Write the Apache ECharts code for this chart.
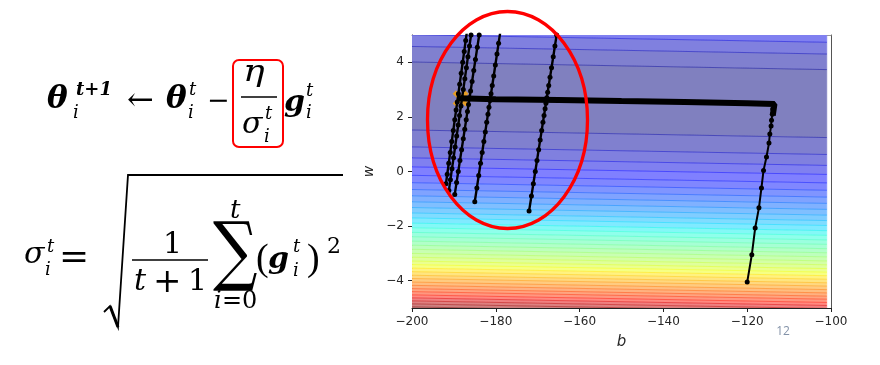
<!DOCTYPE html>
<html><head><meta charset="utf-8">
<script src="https://cdn.jsdelivr.net/npm/echarts@6/dist/echarts.min.js"></script>
<style>html,body{margin:0;padding:0;background:#fff}#c{width:880px;height:365px}</style>
</head><body><div id="c"></div>
<script>
// ---------------- data ----------------
const bTicks = [-200, -180, -160, -140, -120, -100];
const wTicks = [-4, -2, 0, 2, 4];
// contour grid extent in b
const contourB = [-200, -101];
// contour boundary lines (w value at b = -150), top to bottom
const contourBoundsW = [4.87, 4.44, 3.87, 1.38, 0.76, 0.36, 0.03, -0.28, -0.55, -0.80, -1.03, -1.25,
  -1.46, -1.66, -1.84, -2.03, -2.20, -2.37, -2.53, -2.69, -2.84, -2.99, -3.14, -3.28, -3.42,
  -3.55, -3.68, -3.81, -3.94, -4.06, -4.19, -4.31, -4.43, -4.54, -4.66, -4.77, -4.88, -4.99,
  -5.10, -5.20];
// contour level of each band (band j lies between bound j-1 and bound j)
const bandLevels = [3, 2, 1, 0, 1, 2, 3, 4, 5, 6, 7, 8, 9, 10, 11, 12, 13, 14, 15, 16, 17, 18,
  19, 20, 21, 22, 23, 24, 25, 26, 27, 28, 29, 30, 31, 32, 33, 34, 35, 36, 37];
const contourTilt = -0.0028; // change of w per unit b along a contour line
const maxLevel = 36;

// trajectory: start and climb
const pathStart = [[-120.0, -4.05], [-118.9, -3.05], [-118.1, -2.07], [-117.2, -1.33], [-116.6, -0.60],
  [-116.1, 0.04], [-115.4, 0.53], [-114.8, 1.04], [-114.6, 1.37], [-114.3, 1.67], [-114.2, 1.88],
  [-114.0, 2.10], [-113.9, 2.29], [-113.8, 2.47]];
// dense horizontal part
const pathBar = [[-113.9, 2.05], [-113.5, 2.47], [-120, 2.50], [-135, 2.55], [-150, 2.58], [-165, 2.62],
  [-180, 2.65], [-189.0, 2.68]];
const diagA = [[-172.06, -1.45], [-171.5, -0.9], [-171.04, -0.45], [-170.58, 0.0], [-170.17, 0.4],
  [-169.77, 0.8], [-169.41, 1.15], [-169.05, 1.5], [-168.75, 1.8], [-168.49, 2.05], [-168.24, 2.3],
  [-168.03, 2.5], [-167.83, 2.7], [-167.62, 2.9], [-167.37, 3.15], [-167.06, 3.45], [-166.7, 3.8],
  [-166.29, 4.2], [-165.89, 4.6], [-165.48, 5.0], [-165.07, 5.4]];
const diagB = [[-185.02, -1.11], [-184.52, -0.6], [-184.08, -0.15], [-183.64, 0.3], [-183.25, 0.7],
  [-182.85, 1.1], [-182.51, 1.45], [-182.17, 1.8], [-181.87, 2.1], [-181.63, 2.35], [-181.38, 2.6],
  [-181.14, 2.85], [-180.85, 3.15], [-180.5, 3.5], [-180.11, 3.9], [-179.72, 4.3], [-179.33, 4.7],
  [-178.94, 5.1], [-178.64, 5.4]];
const diagC = [[-189.8, -0.84], [-189.36, -0.4], [-188.96, 0.0], [-188.56, 0.4], [-188.16, 0.8],
  [-187.76, 1.2], [-187.41, 1.55], [-187.06, 1.9], [-186.76, 2.2], [-186.51, 2.45], [-186.26, 2.7],
  [-186.01, 2.95], [-185.66, 3.3], [-185.26, 3.7], [-184.86, 4.1], [-184.41, 4.55], [-183.96, 5.0],
  [-183.56, 5.4]];
const diagD1 = [[-191.9, -0.45], [-191.59, -0.1], [-191.23, 0.3], [-190.87, 0.7], [-190.51, 1.1],
  [-190.15, 1.5], [-189.79, 1.9], [-189.47, 2.25], [-189.2, 2.55], [-188.93, 2.85], [-188.62, 3.2],
  [-188.26, 3.6], [-187.9, 4.0], [-187.54, 4.4], [-187.18, 4.8], [-186.82, 5.2], [-186.55, 5.5]];
const diagD2 = [[-191.2, -0.7], [-190.83, -0.3], [-190.46, 0.1], [-190.08, 0.5], [-189.71, 0.9],
  [-189.34, 1.3], [-188.97, 1.7], [-188.65, 2.05], [-188.32, 2.4], [-188.04, 2.7], [-187.76, 3.0],
  [-187.39, 3.4], [-187.02, 3.8], [-186.65, 4.2], [-186.28, 4.6], [-185.91, 5.0], [-185.54, 5.4]];
const optimum = [[-188.4, 2.67]];

// ---------------- styling helpers ----------------
const jetR = [[0, 0], [0.35, 0], [0.66, 1], [0.89, 1], [1, 0.5]];
const jetG = [[0, 0], [0.125, 0], [0.375, 1], [0.64, 1], [0.91, 0], [1, 0]];
const jetB = [[0, 0.5], [0.11, 1], [0.34, 1], [0.65, 0], [1, 0]];
function seg(p, t) {
  t = Math.max(0, Math.min(1, t));
  for (let i = 1; i < p.length; i++) {
    if (t <= p[i][0]) {
      const f = (t - p[i - 1][0]) / (p[i][0] - p[i - 1][0]);
      return p[i - 1][1] + f * (p[i][1] - p[i - 1][1]);
    }
  }
  return p[p.length - 1][1];
}
function jet(t, a) {
  const c = [seg(jetR, t), seg(jetG, t), seg(jetB, t)].map(v => Math.round(255 * (1 - a) + 255 * v * a));
  return 'rgb(' + c.join(',') + ')';
}
function jetA(t, a) {
  const c = [seg(jetR, t), seg(jetG, t), seg(jetB, t)].map(v => Math.round(255 * v));
  return 'rgba(' + c.join(',') + ',' + a + ')';
}

// build band / line data
const bandData = [];
for (let j = 0; j < bandLevels.length; j++) {
  const top = j === 0 ? 6 : contourBoundsW[j - 1];
  const bot = j === bandLevels.length - 1 ? -6 : contourBoundsW[j];
  bandData.push([top, bot, bandLevels[j]]);
}
const lineData = contourBoundsW.map((w, k) => [w, Math.max(bandLevels[k], bandLevels[k + 1])]);

function lineAt(w, b) { return w + contourTilt * (b + 150); }

const minusFmt = v => String(v).replace('-', '\u2212');
const SANS = '"DejaVu Sans", sans-serif';
const SERIF = '"DejaVu Serif", "Liberation Serif", serif';
const LSERIF = '"Liberation Serif", serif';

// text placed by its middle line
function tm(x, mid, s, size, italic, bold, extra, fam) {
  const o = {
    type: 'text', x: x, y: mid, z: 50,
    style: { text: s, fontSize: size, fontFamily: fam || SERIF, fontStyle: italic ? 'italic' : 'normal',
      fontWeight: bold ? 'bold' : 'normal', fill: '#000', align: 'left', verticalAlign: 'middle' }
  };
  if (extra) Object.assign(o, extra);
  return o;
}
// text placed by its baseline
function tx(x, base, s, size, italic, bold, extra, fam) {
  return tm(x, base - 0.25 * size, s, size, italic, bold, extra, fam);
}

const formula = [
  // theta_i^{t+1} <- theta_i^t - eta/sigma_i^t g_i^t
  tx(47, 108, '\u03B8', 31, true, true),
  tx(76, 95, 't+1', 18, true, true),
  tx(73, 118, 'i', 18, true, false),
  tm(127, 101.5, '\u2190', 32, false, false),
  tx(166, 108, '\u03B8', 31, true, true),
  tx(189, 95, 't', 18, true, false),
  tx(188, 118, 'i', 18, true, false),
  tm(207, 102.2, '\u2212', 27, false, false),
  { type: 'rect', z: 50, shape: { x: 233, y: 60, width: 50, height: 87, r: 6 },
    style: { fill: 'none', stroke: '#ff0000', lineWidth: 2 } },
  tx(243, 81, '\u03B7', 29, true, false, { scaleX: 1.25 }),
  { type: 'line', z: 50, shape: { x1: 241, y1: 97, x2: 277, y2: 97 }, style: { stroke: '#000', lineWidth: 1.5 } },
  tx(242, 133, '\u03C3', 30, true, false),
  tx(265, 119, 't', 18, true, false),
  tx(264, 142, 'i', 18, true, false),
  tx(284, 111, 'g', 30, true, true),
  tx(306, 96, 't', 18, true, false),
  tx(306, 118, 'i', 18, true, false),
  // sigma_i^t = sqrt(1/(t+1) sum (g_i^t)^2)
  tx(24, 263, '\u03C3', 30, true, false),
  tx(47, 252, 't', 18, true, false),
  tx(45, 275, 'i', 18, true, false),
  tm(59, 258.2, '=', 36, false, false),
  { type: 'polyline', z: 50, shape: { points: [[104, 312], [110, 306], [118, 327], [128, 175], [343, 175]] },
    style: { stroke: '#000', lineWidth: 1.8, fill: null } },
  { type: 'line', z: 50, shape: { x1: 110, y1: 306, x2: 118, y2: 327 }, style: { stroke: '#000', lineWidth: 3 } },
  tx(163, 253, '1', 30, false, false),
  { type: 'line', z: 50, shape: { x1: 132, y1: 260, x2: 208, y2: 260 }, style: { stroke: '#000', lineWidth: 1.5 } },
  tx(134, 290, 't', 30, true, false),
  tm(153, 282.7, '+', 34, false, false),
  tx(188, 290, '1', 30, false, false),
  tm(213, 256, '\u2211', 76, false, false, { scaleX: 0.82 }),
  tx(230, 218, 't', 26, true, false),
  tx(214, 308, 'i', 24, true, false),
  tx(222, 308, '=0', 24, false, false),
  tm(256, 259.7, '(', 38, false, false, null, LSERIF),
  tx(268, 268, 'g', 30, true, true),
  tx(293, 252, 't', 18, true, false),
  tx(293, 276, 'i', 18, true, false),
  tm(307, 259.7, ')', 38, false, false, null, LSERIF),
  tx(327, 253, '2', 22, false, false)
];

const chart = echarts.init(document.getElementById('c'), null, { renderer: 'canvas' });

function pathSeries(data, width, sym) {
  return {
    type: 'line', data: data, z: 5, clip: true, silent: true,
    symbol: sym ? 'circle' : 'none', symbolSize: 5, showSymbol: !!sym,
    lineStyle: { color: '#000', width: width }, itemStyle: { color: '#000' }
  };
}

const option = {
  animation: false,
  grid: { left: 412, top: 35, width: 419, height: 273, show: false },
  xAxis: [{
    type: 'value', min: -200, max: -100, interval: 20, position: 'bottom',
    axisLine: { show: true, onZero: false, lineStyle: { color: '#222', width: 1 } },
    axisTick: { show: true, length: 4, lineStyle: { color: '#222' } },
    axisLabel: { color: '#262626', fontSize: 12, fontFamily: SANS, margin: 8, formatter: minusFmt },
    splitLine: { show: false },
    name: 'b', nameLocation: 'middle', nameGap: 27,
    nameTextStyle: { fontStyle: 'italic', fontSize: 15, fontFamily: SANS, color: '#262626' }
  }, {
    type: 'value', min: -200, max: -100, position: 'top',
    axisLine: { show: true, onZero: false, lineStyle: { color: '#999', width: 1 } },
    axisTick: { show: false }, axisLabel: { show: false }, splitLine: { show: false }
  }],
  yAxis: [{
    type: 'value', min: -5, max: 5, position: 'left',
    axisLine: { show: true, onZero: false, lineStyle: { color: '#222', width: 1 } },
    axisTick: { show: true, length: 4, customValues: wTicks, lineStyle: { color: '#222' } },
    axisLabel: { customValues: wTicks, color: '#262626', fontSize: 12, fontFamily: SANS, margin: 8, formatter: minusFmt },
    splitLine: { show: false },
    name: 'w', nameLocation: 'middle', nameGap: 36, nameRotate: 90,
    nameTextStyle: { fontStyle: 'italic', fontSize: 14, fontFamily: SANS, color: '#262626' }
  }, {
    type: 'value', min: -5, max: 5, position: 'right',
    axisLine: { show: true, onZero: false, lineStyle: { color: '#555', width: 1 } },
    axisTick: { show: false }, axisLabel: { show: false }, splitLine: { show: false }
  }],
  series: [
    {
      type: 'custom', z: 1, clip: true, silent: true, data: bandData,
      renderItem: function (params, api) {
        const top = api.value(0), bot = api.value(1), lvl = api.value(2);
        const x0 = contourB[0], x1 = contourB[1];
        const pts = [[x0, lineAt(top, x0)], [x1, lineAt(top, x1)], [x1, lineAt(bot, x1)], [x0, lineAt(bot, x0)]]
          .map(d => api.coord(d));
        const col = jet(lvl / maxLevel, 0.5);
        return { type: 'polygon', shape: { points: pts }, style: { fill: col, stroke: col, lineWidth: 0.6 } };
      }
    },
    {
      type: 'custom', z: 2, clip: true, silent: true, data: lineData,
      renderItem: function (params, api) {
        const w = api.value(0), lvl = api.value(1);
        const x0 = contourB[0], x1 = contourB[1];
        const p0 = api.coord([x0, lineAt(w, x0)]), p1 = api.coord([x1, lineAt(w, x1)]);
        return { type: 'line', shape: { x1: p0[0], y1: p0[1], x2: p1[0], y2: p1[1] },
          style: { stroke: jetA(lvl / maxLevel, 0.45), lineWidth: 1 } };
      }
    },
    {
      type: 'scatter', z: 3, silent: true, data: optimum,
      symbol: 'path://M0,2L2,0L5,3L8,0L10,2L7,5L10,8L8,10L5,7L2,10L0,8L3,5Z', symbolSize: 16,
      itemStyle: { color: '#ffa500' }
    },
    pathSeries(pathStart, 2, true),
    pathSeries(pathBar, 6, false),
    pathSeries(diagA, 2.4, true),
    pathSeries(diagB, 2.4, true),
    pathSeries(diagC, 2.4, true),
    pathSeries(diagD1, 2.4, true),
    pathSeries(diagD2, 2.4, true)
  ],
  graphic: formula.concat([
    { type: 'ellipse', z: 100, shape: { cx: 507.5, cy: 120, rx: 80, ry: 108.5 },
      style: { fill: 'none', stroke: '#ff0000', lineWidth: 3.3 } },
    { type: 'text', x: 783, y: 332, z: 50,
      style: { text: '12', fontSize: 12, fontFamily: '"Open Sans", sans-serif', fill: '#8392a8', align: 'center', verticalAlign: 'middle' } }
  ])
};
chart.setOption(option);
</script>
</body></html>
